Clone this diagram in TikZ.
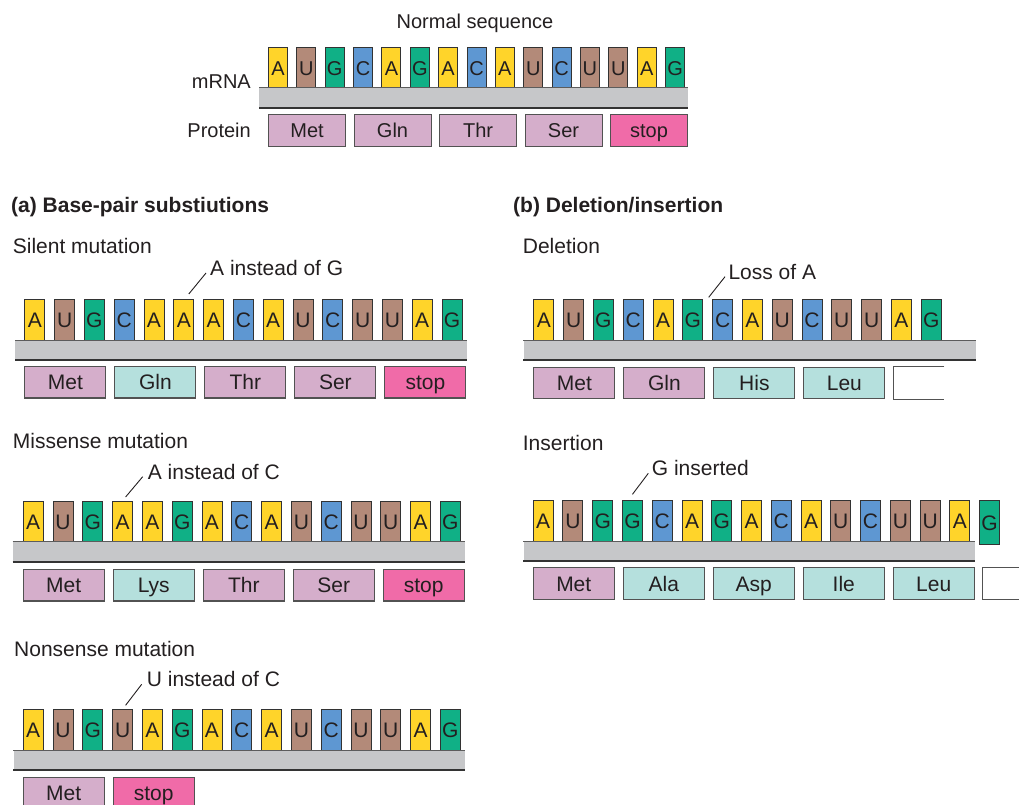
\documentclass[tikz,border=0pt]{standalone}
\usepackage{fontspec}
\setmainfont{Liberation Sans}
\usepackage{xcolor}
\usepackage{tikz}
\usetikzlibrary{positioning,calc}

\definecolor{colA}{HTML}{FFD42A}
\definecolor{colU}{HTML}{B38A79}
\definecolor{colG}{HTML}{10B086}
\definecolor{colC}{HTML}{5E97D2}
\definecolor{edge}{HTML}{333333}
\definecolor{ink}{HTML}{231F20}
\definecolor{stripgray}{HTML}{C6C7C9}
\definecolor{aaold}{HTML}{D5AECB}
\definecolor{aanew}{HTML}{B5E0DD}
\definecolor{aastop}{HTML}{F06BA8}

\newcommand\labfont{\fontsize{21}{25}\selectfont}
\newcommand\toplabfont{\fontsize{20}{24}\selectfont}

\begin{document}
\begin{tikzpicture}[
    x=1pt, y=-1pt,
    base/.style={draw=edge, line width=1pt, minimum width=20pt, minimum height=41pt, inner sep=0pt, anchor=north west, font=\labfont, text=ink, text height=15pt, text depth=0pt},
    nbase/.style={base, minimum width=19pt, font=\toplabfont, text height=14.3pt},
    strip/.style={fill=stripgray, inner sep=0pt, minimum height=20pt, anchor=north west},
    stripedge/.style={draw=edge!80, line width=1pt},
    stripfoot/.style={draw=edge, line width=2pt},
    residue/.style={draw=edge!85, line width=1.1pt, minimum width=81pt, minimum height=31.4pt, inner sep=0pt, anchor=north west, font=\labfont, text=ink, text height=15pt, text depth=0pt},
    nresidue/.style={residue, minimum width=77pt, font=\toplabfont, text height=14.3pt},
    boxedge/.style={draw=edge!85, line width=1.1pt},
    title/.style={font=\labfont, text=ink, inner sep=0pt, anchor=west, text height=15pt, text depth=0pt},
    heading/.style={title, font=\labfont\bfseries},
    leader/.style={draw=ink, line width=0.9pt},
]
\useasboundingbox (0,0) rectangle (1019,805);
\clip (0,0) rectangle (1019,805);

% Normal sequence
\node[title, font=\toplabfont, anchor=center] (normal) at (475,20.7) {Normal sequence};
\foreach \b [count=\i from 0] in {A,U,G,C,A,G,A,C,A,U,C,U,U,A,G}
  \node[nbase, fill=col\b] (n\i) at ({268+28.36*\i},47) {\b};
\node[strip, minimum width=429pt] (nstrip) at (259,88) {};
\draw[stripedge] (nstrip.north west) -- (nstrip.north east);
\draw[stripfoot] (nstrip.south west) -- (nstrip.south east);
\foreach \a/\c [count=\i from 0] in {Met/aaold,Gln/aaold,Thr/aaold,Ser/aaold,stop/aastop}
  \node[nresidue, fill=\c] (np\i) at ({268+85.5*\i},114.3) {\a};
\node[title, font=\toplabfont, anchor=east] (mrna) at (251,81) {mRNA};
\node[title, font=\toplabfont, anchor=east] (protein) at (251,130.3) {Protein};

% Headings
\node[heading] (parta) at (11,204.5) {(a) Base-pair substiutions};
\node[heading] (partb) at (513,204.5) {(b) Deletion/insertion};

% Silent mutation
\node[title] (silent) at (12.7,246) {Silent mutation};
\node[title] (silentnote) at (210,268) {A instead of G};
\foreach \b [count=\i from 0] in {A,U,G,C,A,A,A,C,A,U,C,U,U,A,G}
  \node[base, fill=col\b] (s\i) at ({24.3+29.8*\i},299) {\b};
\node[strip, minimum width=451.7pt] (sstrip) at (15,340) {};
\draw[stripedge] (sstrip.north west) -- (sstrip.north east);
\draw[stripfoot] (sstrip.south west) -- (sstrip.south east);
\foreach \a/\c [count=\i from 0] in {Met/aaold,Gln/aanew,Thr/aaold,Ser/aaold,stop/aastop}
  \node[residue, fill=\c] (sp\i) at ({24.3+90*\i},366) {\a};
\draw[leader] ([xshift=5pt,yshift=5pt]s5.north) -- ([xshift=-4pt,yshift=-5pt]silentnote.west);

% Missense mutation
\node[title] (missense) at (12.7,440.7) {Missense mutation};
\node[title] (missensenote) at (147.7,471.7) {A instead of C};
\foreach \b [count=\i from 0] in {A,U,G,A,A,G,A,C,A,U,C,U,U,A,G}
  \node[base, fill=col\b] (m\i) at ({22.7+29.8*\i},501) {\b};
\node[strip, minimum width=452.3pt] (mstrip) at (12.7,541.7) {};
\draw[stripedge] (mstrip.north west) -- (mstrip.north east);
\draw[stripfoot] (mstrip.south west) -- (mstrip.south east);
\foreach \a/\c [count=\i from 0] in {Met/aaold,Lys/aanew,Thr/aaold,Ser/aaold,stop/aastop}
  \node[residue, fill=\c] (mp\i) at ({22.7+90*\i},569) {\a};
\draw[leader] ([xshift=3pt,yshift=4pt]m3.north) -- ([xshift=-5pt,yshift=-5pt]missensenote.west);

% Nonsense mutation
\node[title] (nonsense) at (14,649.3) {Nonsense mutation};
\node[title] (nonsensenote) at (146.7,679.3) {U instead of C};
\foreach \b [count=\i from 0] in {A,U,G,U,A,G,A,C,A,U,C,U,U,A,G}
  \node[base, fill=col\b] (x\i) at ({22.7+29.8*\i},709.3) {\b};
\node[strip, minimum width=451.7pt] (xstrip) at (13.3,750) {};
\draw[stripedge] (xstrip.north west) -- (xstrip.north east);
\draw[stripfoot] (xstrip.south west) -- (xstrip.south east);
\foreach \a/\c [count=\i from 0] in {Met/aaold,stop/aastop}
  \node[residue, fill=\c] (xp\i) at ({22.7+90*\i},776.7) {\a};
\draw[leader] ([xshift=3pt,yshift=4pt]x3.north) -- ([xshift=-5pt,yshift=-5pt]nonsensenote.west);

% Deletion
\node[title] (deletion) at (522.7,246) {Deletion};
\node[title] (deletionnote) at (728.3,271.7) {Loss of A};
\foreach \b [count=\i from 0] in {A,U,G,C,A,G,C,A,U,C,U,U,A,G}
  \node[base, fill=col\b] (d\i) at ({533.3+29.8*\i},299.3) {\b};
\node[strip, minimum width=452.4pt] (dstrip) at (523.3,340) {};
\draw[stripedge] (dstrip.north west) -- (dstrip.north east);
\draw[stripfoot] (dstrip.south west) -- (dstrip.south east);
\foreach \a/\c [count=\i from 0] in {Met/aaold,Gln/aaold,His/aanew,Leu/aanew}
  \node[residue, fill=\c] (dp\i) at ({533.3+90*\i},366.7) {\a};
\node[residue, draw=none, minimum width=50pt] (dopen) at (893.3,366.7) {};
\draw[boxedge] (dopen.north east) -- (dopen.north west) -- (dopen.south west) -- (dopen.south east);
\draw[leader] ($(d5.north east)!0.5!(d6.north west) + (1,-2)$) -- ([xshift=-3.3pt,yshift=-5pt]deletionnote.west);

% Insertion
\node[title] (insertion) at (522.7,442.7) {Insertion};
\node[title] (insertionnote) at (651.7,468.3) {G inserted};
\foreach \b [count=\i from 0] in {A,U,G,G,C,A,G,A,C,A,U,C,U,U,A}
  \node[base, fill=col\b] (i\i) at ({532.7+29.76*\i},500) {\b};
\node[base, fill=colG, minimum height=44pt] (i15) at ({532.7+29.76*15},500) {G};
\node[strip, minimum width=451.7pt] (istrip) at (523.3,541) {};
\draw[stripedge] (istrip.north west) -- (istrip.north east);
\draw[stripfoot] (istrip.south west) -- (istrip.south east);
\foreach \a/\c [count=\i from 0] in {Met/aaold,Ala/aanew,Asp/aanew,Ile/aanew,Leu/aanew}
  \node[residue, fill=\c] (ip\i) at ({532.7+90*\i},567.3) {\a};
\node[residue, draw=none, minimum width=40pt] (iopen) at (982.7,567.3) {};
\draw[boxedge] (iopen.north east) -- (iopen.north west) -- (iopen.south west) -- (iopen.south east);
\draw[leader] ([yshift=5.7pt]i3.north) -- ([xshift=-3.4pt,yshift=-5pt]insertionnote.west);

\end{tikzpicture}
\end{document}
